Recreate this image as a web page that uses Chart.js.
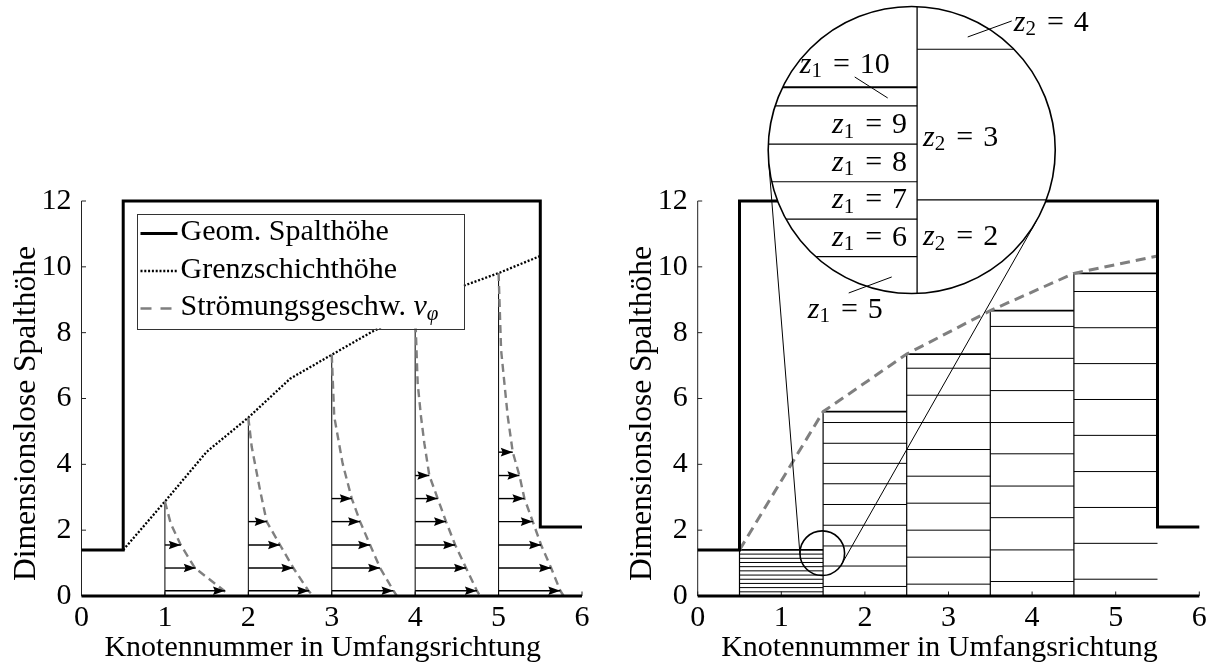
<!DOCTYPE html>
<html>
<head>
<meta charset="utf-8">
<script src="https://cdn.jsdelivr.net/npm/chart.js@4.4.1/dist/chart.umd.min.js"></script>
<style>
html,body{margin:0;padding:0;background:#fff;overflow:hidden;}
#wrap{position:relative;width:1216px;height:671px;background:#fff;}
canvas{position:absolute;top:0;}
</style>
</head>
<body>
<div id="wrap">
<canvas id="cLeft" width="608" height="671" style="left:0px"></canvas>
<canvas id="cRight" width="608" height="671" style="left:608px"></canvas>
</div>
<script>
// ---------------- data ----------------
const xTicks = [0, 1, 2, 3, 4, 5, 6];
const yTicks = [0, 2, 4, 6, 8, 10, 12];
const xLabel = 'Knotennummer in Umfangsrichtung';
const yLabel = 'Dimensionslose Spalthöhe';

const geomX = [0, 0.5, 0.5, 5.5, 5.5, 6];
const geomY = [1.4, 1.4, 12, 12, 2.1, 2.1];
const wallX = [0, 6];
const wallY = [0, 0];

const blX = [0.5, 1, 1.5, 2, 2.5, 3, 3.5, 4, 4.5, 5, 5.5];
const blY = [1.4, 2.87, 4.38, 5.42, 6.6, 7.33, 8.05, 8.65, 9.35, 9.81, 10.33];

const nodes = [1, 2, 3, 4, 5];
const nodeTop = [2.87, 5.42, 7.33, 8.65, 9.81];
const arrowY = [0.16, 0.85, 1.55, 2.26, 2.96, 3.66, 4.37];
const arrowV1 = [0.72, 0.37, 0.19];
const arrowV2 = [0.73, 0.54, 0.38, 0.22];
const arrowV3 = [0.74, 0.58, 0.46, 0.34, 0.24];
const arrowV4 = [0.74, 0.61, 0.48, 0.37, 0.27, 0.17];
const arrowV5 = [0.74, 0.63, 0.51, 0.41, 0.31, 0.25, 0.17];

const profY1 = [2.87, 2.2, 1.55, 0.85, 0.16, 0];
const profV1 = [0, 0.07, 0.19, 0.36, 0.71, 0.77];
const profY2 = [5.42, 4.54, 3.22, 2.26, 1.55, 0.85, 0.16, 0];
const profV2 = [0, 0.04, 0.14, 0.22, 0.38, 0.54, 0.72, 0.78];
const profY3 = [7.33, 5.45, 4.03, 2.96, 2.26, 1.55, 0.85, 0.16, 0];
const profV3 = [0, 0.03, 0.13, 0.24, 0.34, 0.46, 0.58, 0.74, 0.78];
const profY4 = [8.65, 6.46, 5.45, 4.64, 3.66, 2.96, 2.26, 1.55, 0.85, 0.16, 0];
const profV4 = [0, 0.03, 0.07, 0.11, 0.17, 0.27, 0.37, 0.48, 0.61, 0.74, 0.78];
const profY5 = [9.81, 7.48, 6.46, 5.45, 4.37, 3.66, 2.96, 2.26, 1.55, 0.85, 0.16, 0];
const profV5 = [0, 0.03, 0.07, 0.11, 0.17, 0.25, 0.31, 0.41, 0.51, 0.63, 0.74, 0.78];

const legendGeom = 'Geom. Spalthöhe';
const legendBL = 'Grenzschichthöhe';
const legendVel = 'Strömungsgeschw.';

// right chart
const meanX = [0.5, 1.5, 2.5, 3.5, 4.5, 5.5];
const meanY = [1.4, 5.6, 7.35, 8.67, 9.8, 10.33];
const cellLeft = [0.5, 1.5, 2.5, 3.5, 4.5];
const cellRight = [1.5, 2.5, 3.5, 4.5, 5.5];
const cellTop = [1.4, 5.6, 7.35, 8.67, 9.8];
const layers1 = [0.127, 0.255, 0.382, 0.509, 0.636, 0.764, 0.891, 1.018, 1.145, 1.273];
const layers2 = [0.29, 0.91, 1.52, 2.15, 2.78, 3.41, 4.03, 4.64, 5.27];
const layers3 = [0.36, 1.18, 2.00, 2.82, 3.64, 4.45, 5.27, 6.10, 6.92];
const layers4 = [0.44, 1.40, 2.38, 3.34, 4.32, 5.27, 6.24, 7.22, 8.19];
const layers5 = [0.51, 1.60, 2.69, 3.78, 4.88, 5.97, 7.06, 8.15, 9.25];

// magnifier (spy): small circle at the cell interface, big circle above
const spySmall = { x: 1.49, y: 1.3, r: 0.267 };
const spyBig = { x: 2.56, y: 13.55 };
const spyMag = 6.43;
const spyEdgeX = 1.5;
// layer boundaries as seen in the magnified view (y data units)
const zoomZ1Edges = [1.596, 1.508, 1.328, 1.150, 0.973, 0.796];
const zoomZ1Names = ['10', '9', '8', '7', '6', '5'];
const zoomZ2Edges = [1.776, 1.064];
const zoomZ2Names = ['4', '3', '2'];
const zoomZ2LabelY = [1.357, 0.888];

// ---------------- helpers ----------------
const FAM = '"Liberation Serif","Times New Roman",serif';
const FS = 30;

function seg(xs, ys, style) {
  return Object.assign({
    data: xs.map((x, i) => ({ x: x, y: ys[i] })),
    showLine: true, pointRadius: 0, pointHoverRadius: 0, borderColor: '#000',
    borderWidth: 1, fill: false, clip: false, tension: 0
  }, style);
}

function scaleOpts(ticksArr, min, max, isX, fitSize) {
  return {
    type: 'linear', min: min, max: max,
    grid: { display: false, drawTicks: false },
    border: { display: false },
    afterBuildTicks: s => { s.ticks = ticksArr.map(v => ({ value: v })); },
    ticks: { font: { family: FAM, size: FS }, color: '#000', padding: isX ? 4 : 10,
             maxRotation: 0, autoSkip: false, callback: v => String(v) },
    title: { display: false },
    afterFit: s => { if (isX) s.height = fitSize; else s.width = fitSize; }
  };
}

function drawMath(ctx, parts, x, y, align) {
  const ws = parts.map(p => {
    ctx.font = (p.italic ? 'italic ' : '') + (p.sub ? Math.round(FS * 0.7) : FS) + 'px ' + FAM;
    return ctx.measureText(p.t).width + (p.gap || 0);
  });
  const total = ws.reduce((a, b) => a + b, 0);
  let cx = align === 'right' ? x - total : (align === 'center' ? x - total / 2 : x);
  ctx.textBaseline = 'middle';
  ctx.textAlign = 'left';
  ctx.fillStyle = '#000';
  parts.forEach((p, i) => {
    ctx.font = (p.italic ? 'italic ' : '') + (p.sub ? Math.round(FS * 0.7) : FS) + 'px ' + FAM;
    ctx.fillText(p.t, cx, y + (p.sub ? 7 : 0));
    cx += ws[i];
  });
}
function zParts(idx, val) {
  return [{ t: 'z', italic: true }, { t: idx, sub: true, gap: 1 }, { t: '\u2004=\u2004' + val }];
}

// axes (inward ticks) + axis titles
const axesPlugin = {
  id: 'axesInward',
  beforeDatasetsDraw(chart) {
    const { ctx, scales: { x, y }, chartArea } = chart;
    const ax = x.getPixelForValue(0), ay = y.getPixelForValue(0);
    ctx.save();
    ctx.strokeStyle = '#222';
    ctx.lineWidth = 1;
    ctx.beginPath();
    ctx.moveTo(ax, y.getPixelForValue(0));
    ctx.lineTo(ax, y.getPixelForValue(12));
    yTicks.forEach(v => { const p = y.getPixelForValue(v); ctx.moveTo(ax, p); ctx.lineTo(ax + 4.5, p); });
    xTicks.forEach(v => { const p = x.getPixelForValue(v); ctx.moveTo(p, ay); ctx.lineTo(p, ay - 4.5); });
    ctx.stroke();
    ctx.fillStyle = '#000';
    ctx.font = FS + 'px ' + FAM;
    ctx.textAlign = 'center';
    ctx.textBaseline = 'middle';
    ctx.fillText(xLabel, (chartArea.left + chartArea.right) / 2 - 9, chartArea.bottom + 52);
    ctx.translate(chartArea.left - 55, (chartArea.top + chartArea.bottom) / 2 + 15);
    ctx.rotate(-Math.PI / 2);
    ctx.font = '31.5px ' + FAM;
    ctx.fillText(yLabel, 0, 0);
    ctx.restore();
  }
};

const arrowPlugin = {
  id: 'arrowHeads',
  afterDatasetsDraw(chart) {
    const ctx = chart.ctx;
    chart.data.datasets.forEach((ds, i) => {
      if (!ds.arrowHead) return;
      const pts = chart.getDatasetMeta(i).data;
      const a = pts[pts.length - 2], b = pts[pts.length - 1];
      const ang = Math.atan2(b.y - a.y, b.x - a.x);
      const L = 12, W = 4.3, c = Math.cos(ang), s = Math.sin(ang);
      ctx.save();
      ctx.fillStyle = '#000';
      ctx.beginPath();
      ctx.moveTo(b.x, b.y);
      ctx.lineTo(b.x - L * c - W * s, b.y - L * s + W * c);
      ctx.lineTo(b.x - L * 0.85 * c, b.y - L * 0.85 * s);
      ctx.lineTo(b.x - L * c + W * s, b.y - L * s - W * c);
      ctx.closePath();
      ctx.fill();
      ctx.restore();
    });
  }
};

const legendPlugin = {
  id: 'boxLegend',
  afterDraw(chart) {
    const { ctx, chartArea } = chart;
    const bx = chartArea.left + 55, by = chartArea.top + 12.5, bw = 327, bh = 115;
    ctx.save();
    ctx.fillStyle = '#fff';
    ctx.fillRect(bx, by, bw, bh);
    ctx.strokeStyle = '#333';
    ctx.lineWidth = 1;
    ctx.strokeRect(Math.round(bx) + 0.5, Math.round(by) + 0.5, bw, bh);
    const rows = chart.data.datasets.filter(d => d.legendLabel);
    rows.forEach((d, i) => {
      const ry = by + 19 + i * 37.5;
      ctx.save();
      ctx.strokeStyle = d.borderColor;
      ctx.lineWidth = d.borderWidth;
      ctx.setLineDash(d.legendDash || d.borderDash || []);
      ctx.beginPath();
      ctx.moveTo(bx + 4, ry + 1);
      ctx.lineTo(bx + 41, ry + 1);
      ctx.stroke();
      ctx.restore();
      const parts = [{ t: d.legendLabel }];
      if (d.legendMath) { parts.push({ t: ' ' }, { t: 'v', italic: true }, { t: 'φ', italic: true, sub: true }); }
      drawMath(ctx, parts, bx + 44, ry, 'left');
    });
    ctx.restore();
  }
};

const spyPlugin = {
  id: 'spy',
  afterDatasetsDraw(chart) {
    const { ctx, scales: { x, y } } = chart;
    const c1 = { x: x.getPixelForValue(spySmall.x), y: y.getPixelForValue(spySmall.y) };
    const r1 = x.getPixelForValue(spySmall.x + spySmall.r) - c1.x;
    const c2 = { x: x.getPixelForValue(spyBig.x), y: y.getPixelForValue(spyBig.y) };
    const r2 = r1 * spyMag;
    const MX = v => c2.x + (x.getPixelForValue(v) - c1.x) * spyMag;
    const MY = v => c2.y + (y.getPixelForValue(v) - c1.y) * spyMag;
    ctx.save();
    const dx = c2.x - c1.x, dy = c2.y - c1.y, D = Math.hypot(dx, dy);
    const ux = dx / D, uy = dy / D, px = -uy, py = ux;
    const ca = (r2 - r1) / D, sa = Math.sqrt(1 - ca * ca);
    ctx.strokeStyle = '#000';
    ctx.lineWidth = 1;
    [1, -1].forEach(sg => {
      const nx = ca * ux + sg * sa * px, ny = ca * uy + sg * sa * py;
      ctx.beginPath();
      ctx.moveTo(c1.x - r1 * nx, c1.y - r1 * ny);
      ctx.lineTo(c2.x - r2 * nx, c2.y - r2 * ny);
      ctx.stroke();
    });
    ctx.lineWidth = 1.6;
    ctx.beginPath(); ctx.arc(c1.x, c1.y, r1, 0, Math.PI * 2); ctx.stroke();
    ctx.save();
    ctx.beginPath(); ctx.arc(c2.x, c2.y, r2, 0, Math.PI * 2);
    ctx.fillStyle = '#fff'; ctx.fill();
    ctx.clip();
    const vx = MX(spyEdgeX);
    ctx.strokeStyle = '#000';
    ctx.lineWidth = 1.3;
    ctx.beginPath(); ctx.moveTo(vx, c2.y - r2); ctx.lineTo(vx, c2.y + r2); ctx.stroke();
    zoomZ1Edges.forEach((e, i) => {
      ctx.lineWidth = i === 0 ? 2 : 1.2;
      ctx.beginPath(); ctx.moveTo(c2.x - r2, MY(e)); ctx.lineTo(vx, MY(e)); ctx.stroke();
    });
    zoomZ2Edges.forEach((e) => {
      ctx.lineWidth = 1.2;
      ctx.beginPath(); ctx.moveTo(vx, MY(e)); ctx.lineTo(c2.x + r2, MY(e)); ctx.stroke();
    });
    ctx.restore();
    ctx.lineWidth = 1.6;
    ctx.strokeStyle = '#000';
    ctx.beginPath(); ctx.arc(c2.x, c2.y, r2, 0, Math.PI * 2); ctx.stroke();
    for (let i = 1; i <= 4; i++) {
      const my = (MY(zoomZ1Edges[i]) + MY(zoomZ1Edges[i + 1])) / 2;
      drawMath(ctx, zParts('1', zoomZ1Names[i]), vx - 10, my, 'right');
    }
    zoomZ2LabelY.forEach((v, i) => drawMath(ctx, zParts('2', zoomZ2Names[i + 1]), vx + 6, MY(v), 'left'));
    ctx.lineWidth = 1;
    const ptr = (x1, y1, x2, y2) => { ctx.beginPath(); ctx.moveTo(c2.x + x1, c2.y + y1); ctx.lineTo(c2.x + x2, c2.y + y2); ctx.stroke(); };
    drawMath(ctx, zParts('1', zoomZ1Names[0]), c2.x - 112, c2.y - 85, 'left');
    ptr(-57, -73, -24, -52);
    drawMath(ctx, zParts('1', zoomZ1Names[5]), c2.x - 104, c2.y + 160, 'left');
    ptr(-63, 143, -20, 127);
    drawMath(ctx, zParts('2', zoomZ2Names[0]), c2.x + 102, c2.y - 127, 'left');
    ptr(56, -113, 100, -129);
    ctx.restore();
  }
};

// ---------------- left chart ----------------
const arrowV = [arrowV1, arrowV2, arrowV3, arrowV4, arrowV5];
const profY = [profY1, profY2, profY3, profY4, profY5];
const profV = [profV1, profV2, profV3, profV4, profV5];

const leftSets = [];
leftSets.push(seg(geomX, geomY, { borderWidth: 3, order: 0, legendLabel: legendGeom }));
leftSets.push(seg(wallX, wallY, { borderWidth: 3, order: 0 }));
leftSets.push(seg(blX, blY, { borderWidth: 2.3, borderDash: [2, 1.8], order: 4, legendLabel: legendBL }));
nodes.forEach((n, k) => {
  leftSets.push(seg([n, n], [0, nodeTop[k]], { borderWidth: 1, order: 3 }));
  leftSets.push(seg(profV[k].map(v => n + v), profY[k], {
    borderColor: '#7f7f7f', borderWidth: 2.4, borderDash: [8, 5], order: 2,
    legendLabel: k === 0 ? legendVel : undefined, legendMath: k === 0, legendDash: [11, 9]
  }));
  arrowV[k].forEach((v, j) => leftSets.push(seg([n, n + v], [arrowY[j], arrowY[j]], { borderWidth: 1.4, order: 1, arrowHead: true })));
});

new Chart(document.getElementById('cLeft'), {
  type: 'scatter',
  data: { datasets: leftSets },
  options: {
    responsive: false, animation: false, events: [],
    layout: { padding: { left: 0, top: 201, right: 26, bottom: 0 } },
    scales: { x: scaleOpts(xTicks, 0, 6, true, 75), y: scaleOpts(yTicks, 0, 12, false, 81.5) },
    plugins: { legend: { display: false }, tooltip: { enabled: false } }
  },
  plugins: [axesPlugin, arrowPlugin, legendPlugin]
});

// ---------------- right chart ----------------
const layers = [layers1, layers2, layers3, layers4, layers5];
const rightSets = [];
rightSets.push(seg(geomX, geomY, { borderWidth: 3, order: 0 }));
rightSets.push(seg(wallX, wallY, { borderWidth: 3, order: 0 }));
rightSets.push(seg(meanX, meanY, { borderColor: '#7f7f7f', borderWidth: 3, borderDash: [10, 6], order: 1 }));
cellLeft.forEach((l, k) => {
  rightSets.push(seg([l, cellRight[k]], [cellTop[k], cellTop[k]], { borderWidth: 1.7, order: 2 }));
  rightSets.push(seg([l, l], [0, cellTop[k]], { borderWidth: 1.2, order: 2 }));
  layers[k].forEach(v => rightSets.push(seg([l, cellRight[k]], [v, v], { borderWidth: 1, order: 3 })));
});

new Chart(document.getElementById('cRight'), {
  type: 'scatter',
  data: { datasets: rightSets },
  options: {
    responsive: false, animation: false, events: [],
    layout: { padding: { left: 0, top: 201, right: 16.7, bottom: 0 } },
    scales: { x: scaleOpts(xTicks, 0, 6, true, 75), y: scaleOpts(yTicks, 0, 12, false, 89.7) },
    plugins: { legend: { display: false }, tooltip: { enabled: false } }
  },
  plugins: [axesPlugin, spyPlugin]
});
</script>
</body>
</html>
